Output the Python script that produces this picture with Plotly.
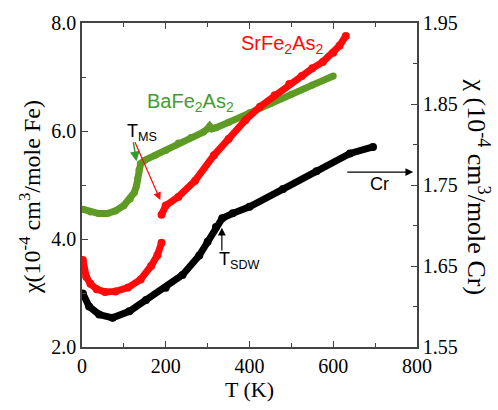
import plotly.graph_objects as go

# BaFe2As2 (left axis, 10^-4 cm3/mole Fe)
ba_T = [3, 20, 40, 60, 80, 100, 115, 125, 130, 133, 136, 140, 150, 175, 200, 230, 260, 290, 300, 305, 310, 320, 350, 400, 450, 500, 550, 600]
ba_chi = [4.55, 4.50, 4.47, 4.47, 4.52, 4.62, 4.74, 4.86, 4.98, 5.12, 5.28, 5.40, 5.46, 5.55, 5.64, 5.78, 5.88, 5.98, 6.04, 6.09, 6.04, 6.06, 6.16, 6.34, 6.51, 6.68, 6.85, 7.02]

# SrFe2As2 (left axis) - None marks the jump at T_MS
sr_T = [2, 4, 10, 20, 35, 55, 80, 110, 140, 165, 180, 190, None, 190, 200, 230, 270, 315, 350, 390, 425, 460, 495, 525, 550, 575, 600, 615, 630]
sr_chi = [3.61, 3.46, 3.30, 3.17, 3.07, 3.02, 3.03, 3.10, 3.25, 3.50, 3.70, 3.93, None, 4.45, 4.62, 4.78, 5.08, 5.55, 5.85, 6.20, 6.45, 6.66, 6.87, 7.02, 7.16, 7.28, 7.45, 7.58, 7.76]

# Cr (right axis, 10^-4 cm3/mole Cr)
cr_T = [2, 17, 41, 73, 113, 153, 200, 240, 280, 300, 320, 335, 360, 400, 480, 560, 640, 695]
cr_chi = [1.616, 1.600, 1.590, 1.586, 1.594, 1.608, 1.623, 1.639, 1.663, 1.680, 1.698, 1.709, 1.715, 1.723, 1.745, 1.767, 1.789, 1.797]

x_major = [0, 200, 400, 600, 800]
x_minor = [100, 300, 500, 700]
y_major = [2.0, 4.0, 6.0, 8.0]
y_minor = [3.0, 5.0, 7.0]
y2_major = [1.55, 1.65, 1.75, 1.85, 1.95]
y2_minor = [1.60, 1.70, 1.80, 1.90]

GREEN = "#5e9b25"
GREEN_TXT = "#3f9e2c"
RED = "#ff0a0a"
AX = "#444444"
SERIF = "Liberation Serif"
SANS = "Liberation Sans"

fig = go.Figure()
fig.add_trace(go.Scatter(x=ba_T, y=ba_chi, mode="lines+markers",
                         line=dict(color=GREEN, width=7), marker=dict(color=GREEN, size=7),
                         showlegend=False))
fig.add_trace(go.Scatter(x=sr_T, y=sr_chi, mode="lines+markers", connectgaps=False,
                         line=dict(color=RED, width=7), marker=dict(color=RED, size=8),
                         showlegend=False))
fig.add_trace(go.Scatter(x=cr_T, y=cr_chi, mode="lines+markers", yaxis="y2",
                         line=dict(color="black", width=7), marker=dict(color="black", size=8),
                         showlegend=False))

ann = []
ann.append(dict(x=478, y=7.61, xref="x", yref="y", text="SrFe<sub>2</sub>As<sub>2</sub>",
                showarrow=False, font=dict(family=SANS, size=20, color=RED)))
ann.append(dict(x=259, y=6.53, xref="x", yref="y", text="BaFe<sub>2</sub>As<sub>2</sub>",
                showarrow=False, font=dict(family=SANS, size=20, color=GREEN_TXT)))
ann.append(dict(x=144, y=5.98, xref="x", yref="y", text="T<sub>MS</sub>",
                showarrow=False, font=dict(family=SANS, size=18, color="black")))
ann.append(dict(x=376, y=3.61, xref="x", yref="y", text="T<sub>SDW</sub>",
                showarrow=False, font=dict(family=SANS, size=18, color="black")))
ann.append(dict(x=710, y=5.01, xref="x", yref="y", text="Cr",
                showarrow=False, font=dict(family=SANS, size=18, color="black")))
# arrows
ann.append(dict(x=130, y=5.44, xref="x", yref="y", ax=122, ay=5.82, axref="x", ayref="y",
                text="", showarrow=True, arrowhead=2, arrowsize=1.3, arrowwidth=1.5, arrowcolor="#2f9a2f"))
ann.append(dict(x=187, y=4.72, xref="x", yref="y", ax=125, ay=5.82, axref="x", ayref="y",
                text="", showarrow=True, arrowhead=2, arrowsize=1.3, arrowwidth=1.2, arrowcolor=RED))
ann.append(dict(x=334, y=4.21, xref="x", yref="y", ax=334, ay=3.76, axref="x", ayref="y",
                text="", showarrow=True, arrowhead=2, arrowsize=1.3, arrowwidth=1.2, arrowcolor="black"))
ann.append(dict(x=791, y=5.24, xref="x", yref="y", ax=630, ay=5.24, axref="x", ayref="y",
                text="", showarrow=True, arrowhead=2, arrowsize=1.3, arrowwidth=1.2, arrowcolor="black"))
# axis titles
ann.append(dict(x=30, y=200, xref="paper", yref="paper", text="χ(10<sup>-4</sup> cm<sup>3</sup>/mole Fe)",
                xanchor="center", yanchor="middle",
                showarrow=False, textangle=-90, font=dict(family=SERIF, size=24, color="black")))
ann.append(dict(x=478, y=189, xref="paper", yref="paper", text="χ (10<sup>-4</sup> cm<sup>3</sup>/mole Cr)",
                xanchor="center", yanchor="middle",
                showarrow=False, textangle=90, font=dict(family=SERIF, size=26, color="black")))

# convert pixel-positioned titles to paper coords
W, H = 498, 410
L, R, T, B = 82, 81, 20, 55
for a in ann[-2:]:
    a["x"] = (a["x"] - L) / (W - L - R)
    a["y"] = (H - B - a["y"]) / (H - T - B)

fig.update_layout(
    width=W, height=H,
    margin=dict(l=L, r=R, t=T, b=B),
    plot_bgcolor="white", paper_bgcolor="white",
    annotations=ann,
    xaxis=dict(range=[0, 800], tickvals=x_major, ticktext=[str(v) for v in x_major],
               ticks="inside", ticklen=6, tickcolor=AX, showline=True, linecolor=AX, linewidth=1.5,
               mirror="ticks", showgrid=False, zeroline=False,
               minor=dict(tickvals=x_minor, ticks="inside", ticklen=4, tickcolor=AX),
               tickfont=dict(family=SERIF, size=20, color="black"),
               title=dict(text="T (K)", font=dict(family=SERIF, size=22, color="black"), standoff=6)),
    yaxis=dict(range=[2, 8], tickvals=y_major, ticktext=["%.1f" % v for v in y_major],
               ticks="inside", ticklen=6, tickcolor=AX, showline=True, linecolor=AX, linewidth=1.5,
               showgrid=False, zeroline=False,
               minor=dict(tickvals=y_minor, ticks="inside", ticklen=4, tickcolor=AX),
               tickfont=dict(family=SERIF, size=20, color="black")),
    yaxis2=dict(range=[1.55, 1.95], overlaying="y", side="right", tickvals=y2_major,
                ticktext=["%.2f" % v for v in y2_major],
                ticks="inside", ticklen=6, tickcolor=AX, showline=True, linecolor=AX, linewidth=1.5,
                showgrid=False, zeroline=False,
                minor=dict(tickvals=y2_minor, ticks="inside", ticklen=4, tickcolor=AX),
                tickfont=dict(family=SERIF, size=20, color="black")),
)

fig.write_html("out.html")
